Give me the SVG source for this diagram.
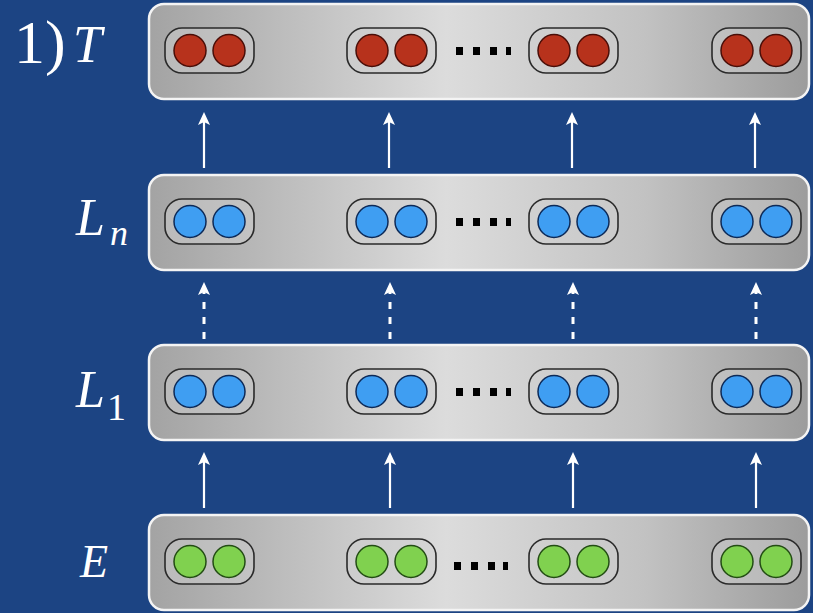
<svg xmlns="http://www.w3.org/2000/svg" width="813" height="613" viewBox="0 0 813 613">
<defs>
<linearGradient id="barg" x1="0" y1="0" x2="1" y2="0">
<stop offset="0" stop-color="#a3a3a3"/>
<stop offset="0.45" stop-color="#dcdcdc"/>
<stop offset="0.75" stop-color="#c2c2c2"/>
<stop offset="1" stop-color="#9c9c9c"/>
</linearGradient>
<path id="head" d="M0,0 L6,13 L0,10 L-6,13 Z" fill="#ffffff"/>
</defs>
<style>
.bar{fill:url(#barg);stroke:#f4f4f4;stroke-width:2.5}
.pill{fill:#cfcfcf;fill-opacity:0.5;stroke:#2a2a2a;stroke-width:1.6}
.red{fill:#b7321c;stroke:#4a0e08;stroke-width:1.5}
.blue{fill:#3f9ef2;stroke:#0d2a58;stroke-width:1.5}
.green{fill:#80d14f;stroke:#234d14;stroke-width:1.5}
.dot{fill:#000000}
.lbl{font-family:"Liberation Serif","DejaVu Serif",serif;fill:#ffffff;font-style:italic}
.num{font-family:"Liberation Serif","DejaVu Serif",serif;fill:#ffffff}
.arr{stroke:#ffffff;stroke-width:2.2;fill:none}
.dash{stroke:#ffffff;stroke-width:3;fill:none;stroke-dasharray:7,8}
</style>
<rect x="0" y="0" width="813" height="613" fill="#1c4483"/>

<g id="labels">
<text class="num" x="14" y="63" font-size="62">1)</text>
<text class="lbl" x="73" y="62" font-size="52">T</text>
<text class="lbl" x="76" y="235" font-size="52">L</text>
<text class="lbl" x="110" y="245" font-size="36">n</text>
<text class="lbl" x="76" y="407" font-size="52">L</text>
<text class="num" x="107" y="420" font-size="38">1</text>
<text class="lbl" x="80" y="577" font-size="46">E</text>
</g>

<g id="node-T">
<rect class="bar" x="149" y="4" width="660" height="95" rx="15"/>
<rect class="pill" x="165" y="28" width="89" height="45" rx="17"/><circle class="red" cx="190" cy="50.5" r="16"/><circle class="red" cx="229" cy="50.5" r="16"/>
<rect class="pill" x="347" y="28" width="89" height="45" rx="17"/><circle class="red" cx="372" cy="50.5" r="16"/><circle class="red" cx="411" cy="50.5" r="16"/>
<rect class="pill" x="529" y="28" width="89" height="45" rx="17"/><circle class="red" cx="554" cy="50.5" r="16"/><circle class="red" cx="593" cy="50.5" r="16"/>
<rect class="pill" x="712" y="28" width="89" height="45" rx="17"/><circle class="red" cx="737" cy="50.5" r="16"/><circle class="red" cx="776" cy="50.5" r="16"/>
<rect class="dot" x="456" y="47" width="7" height="8"/><rect class="dot" x="473" y="47" width="7" height="8"/><rect class="dot" x="490" y="47" width="7" height="8"/><rect class="dot" x="506" y="47" width="5" height="8"/>
</g>

<g id="node-Ln">
<rect class="bar" x="149" y="175" width="660" height="95" rx="15"/>
<rect class="pill" x="165" y="199" width="89" height="45" rx="17"/><circle class="blue" cx="190" cy="221.5" r="16"/><circle class="blue" cx="229" cy="221.5" r="16"/>
<rect class="pill" x="347" y="199" width="89" height="45" rx="17"/><circle class="blue" cx="372" cy="221.5" r="16"/><circle class="blue" cx="411" cy="221.5" r="16"/>
<rect class="pill" x="529" y="199" width="89" height="45" rx="17"/><circle class="blue" cx="554" cy="221.5" r="16"/><circle class="blue" cx="593" cy="221.5" r="16"/>
<rect class="pill" x="712" y="199" width="89" height="45" rx="17"/><circle class="blue" cx="737" cy="221.5" r="16"/><circle class="blue" cx="776" cy="221.5" r="16"/>
<rect class="dot" x="456" y="218" width="7" height="8"/><rect class="dot" x="473" y="218" width="7" height="8"/><rect class="dot" x="490" y="218" width="7" height="8"/><rect class="dot" x="506" y="218" width="5" height="8"/>
</g>

<g id="node-L1">
<rect class="bar" x="149" y="345" width="660" height="95" rx="15"/>
<rect class="pill" x="165" y="369" width="89" height="45" rx="17"/><circle class="blue" cx="190" cy="391.5" r="16"/><circle class="blue" cx="229" cy="391.5" r="16"/>
<rect class="pill" x="347" y="369" width="89" height="45" rx="17"/><circle class="blue" cx="372" cy="391.5" r="16"/><circle class="blue" cx="411" cy="391.5" r="16"/>
<rect class="pill" x="529" y="369" width="89" height="45" rx="17"/><circle class="blue" cx="554" cy="391.5" r="16"/><circle class="blue" cx="593" cy="391.5" r="16"/>
<rect class="pill" x="712" y="369" width="89" height="45" rx="17"/><circle class="blue" cx="737" cy="391.5" r="16"/><circle class="blue" cx="776" cy="391.5" r="16"/>
<rect class="dot" x="456" y="388" width="7" height="8"/><rect class="dot" x="473" y="388" width="7" height="8"/><rect class="dot" x="490" y="388" width="7" height="8"/><rect class="dot" x="506" y="388" width="5" height="8"/>
</g>

<g id="node-E">
<rect class="bar" x="149" y="515" width="660" height="95" rx="15"/>
<rect class="pill" x="165" y="539" width="89" height="45" rx="17"/><circle class="green" cx="190" cy="561.5" r="16"/><circle class="green" cx="229" cy="561.5" r="16"/>
<rect class="pill" x="347" y="539" width="89" height="45" rx="17"/><circle class="green" cx="372" cy="561.5" r="16"/><circle class="green" cx="411" cy="561.5" r="16"/>
<rect class="pill" x="529" y="539" width="89" height="45" rx="17"/><circle class="green" cx="554" cy="561.5" r="16"/><circle class="green" cx="593" cy="561.5" r="16"/>
<rect class="pill" x="712" y="539" width="89" height="45" rx="17"/><circle class="green" cx="737" cy="561.5" r="16"/><circle class="green" cx="776" cy="561.5" r="16"/>
<rect class="dot" x="454" y="562" width="7" height="8"/><rect class="dot" x="471" y="562" width="7" height="8"/><rect class="dot" x="488" y="562" width="7" height="8"/><rect class="dot" x="503" y="562" width="5" height="8"/>
</g>

<g id="connectors">
<line class="arr" x1="204" y1="168" x2="204" y2="120"/><use href="#head" x="204" y="112"/>
<line class="arr" x1="389" y1="168" x2="389" y2="120"/><use href="#head" x="389" y="112"/>
<line class="arr" x1="572" y1="168" x2="572" y2="120"/><use href="#head" x="572" y="112"/>
<line class="arr" x1="755" y1="168" x2="755" y2="120"/><use href="#head" x="755" y="112"/>

<line class="dash" x1="204" y1="339" x2="204" y2="290"/><use href="#head" x="204" y="282"/>
<line class="dash" x1="390" y1="339" x2="390" y2="290"/><use href="#head" x="390" y="282"/>
<line class="dash" x1="573" y1="339" x2="573" y2="290"/><use href="#head" x="573" y="282"/>
<line class="dash" x1="756" y1="339" x2="756" y2="290"/><use href="#head" x="756" y="282"/>

<line class="arr" x1="204" y1="508" x2="204" y2="460"/><use href="#head" x="204" y="452"/>
<line class="arr" x1="390" y1="508" x2="390" y2="460"/><use href="#head" x="390" y="452"/>
<line class="arr" x1="573" y1="508" x2="573" y2="460"/><use href="#head" x="573" y="452"/>
<line class="arr" x1="756" y1="508" x2="756" y2="460"/><use href="#head" x="756" y="452"/>
</g>
</svg>
